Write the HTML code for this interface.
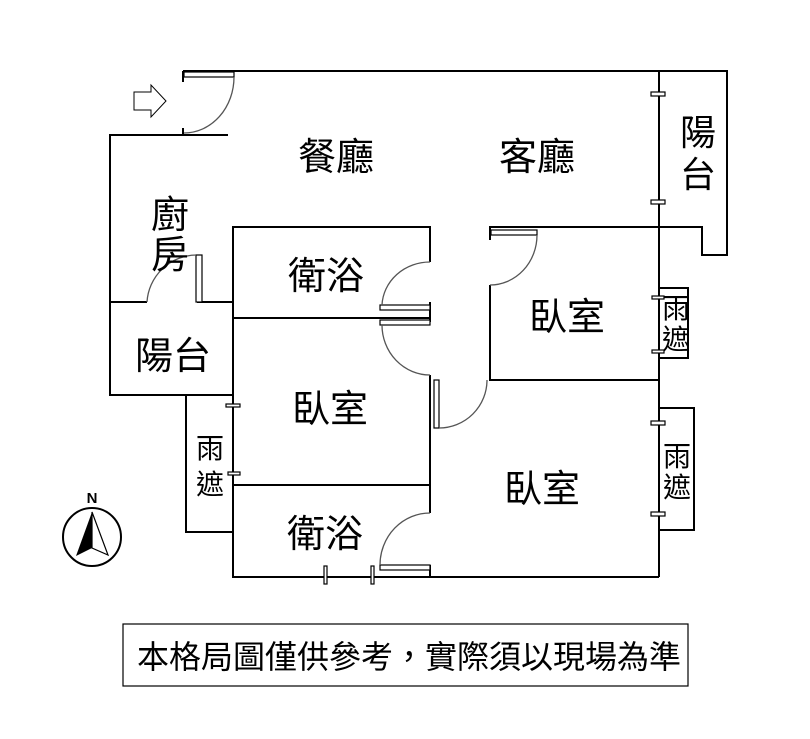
<!DOCTYPE html>
<html><head><meta charset="utf-8"><style>
body{margin:0;background:#fff}
svg{display:block}
text{font-family:"Liberation Sans","Noto Sans CJK TC",sans-serif;fill:#000}
</style></head><body>
<svg width="810" height="739" viewBox="0 0 810 739" xmlns="http://www.w3.org/2000/svg">
<g stroke="#000" stroke-width="2" fill="none">
<polyline points="183,71 727,71 727,255 702,255 702,227 659,227"/>
<line x1="659" y1="71" x2="659" y2="577"/>
<polyline points="228,135 110,135 110,395 233,395"/>
<line x1="183" y1="71" x2="183" y2="82"/>
<line x1="183" y1="128" x2="183" y2="135"/>
<line x1="110" y1="302" x2="147" y2="302"/>
<line x1="197" y1="302" x2="233" y2="302"/>
<polyline points="430,262 430,227 233,227 233,577 659,577"/>
<line x1="233" y1="318" x2="430" y2="318"/>
<line x1="430" y1="302" x2="430" y2="322"/>
<line x1="430" y1="375" x2="430" y2="513"/>
<line x1="430" y1="565" x2="430" y2="577"/>
<line x1="233" y1="485" x2="430" y2="485"/>
<polyline points="490,240 490,227 659,227"/>
<polyline points="490,285 490,380 659,380"/>
<polyline points="186,395 186,532 233,532"/>
<polyline points="659,288 688,288 688,358 659,358"/>
<polyline points="659,408 694,408 694,530 659,530"/>
<rect x="123" y="624" width="565" height="62" stroke-width="1.2"/>
</g>
<g stroke="#000" stroke-width="1.2" fill="#fff">
<rect x="184" y="72" width="50" height="5"/>
<rect x="196" y="255" width="6" height="47"/>
<rect x="380" y="305" width="50" height="5"/>
<rect x="380" y="320" width="50" height="5"/>
<rect x="434" y="380" width="5" height="48"/>
<rect x="491" y="230" width="46" height="5"/>
<rect x="380" y="565" width="50" height="5"/>
<rect x="651" y="92" width="14" height="4"/>
<rect x="651" y="200" width="14" height="4"/>
<rect x="652" y="296" width="12" height="3"/>
<rect x="652" y="350" width="12" height="3"/>
<rect x="651" y="421" width="14" height="4"/>
<rect x="651" y="512" width="14" height="4"/>
<rect x="226" y="404" width="14" height="3"/>
<rect x="228" y="472" width="12" height="3"/>
<rect x="324" y="566" width="3" height="18"/>
<rect x="371" y="566" width="3" height="18"/>
</g>
<g stroke="#555" stroke-width="1.3" fill="none">
<path d="M234,77 A50,56 0 0 1 184,133"/>
<path d="M147,302 A50,50 0 0 1 196,255"/>
<path d="M430,262 A48,45 0 0 0 382,305"/>
<path d="M382,325 A48,50 0 0 0 430,375"/>
<path d="M439,428 A48,48 0 0 0 487,380"/>
<path d="M537,235 A47,50 0 0 1 490,285"/>
<path d="M430,513 A50,52 0 0 0 380,565"/>
</g>
<polygon points="134,92 151,92 151,85 166,101 151,117 151,110 134,110" fill="#fff" stroke="#000" stroke-width="1"/>
<circle cx="92" cy="537" r="29" fill="none" stroke="#000" stroke-width="2"/>
<polygon points="92,512 76,556 92,548" fill="#000"/>
<polygon points="92,512 92,548 108,555" fill="#fff" stroke="#000" stroke-width="1.2"/>
<text x="92" y="503" font-size="15" font-weight="bold" text-anchor="middle">N</text>
<g font-size="38" text-anchor="middle">
<text x="336" y="170">餐廳</text>
<text x="537" y="170">客廳</text>
<text x="170" y="228">廚</text>
<text x="170" y="268">房</text>
<text x="326" y="289">衛浴</text>
<text x="173" y="369">陽台</text>
<text x="330" y="422">臥室</text>
<text x="567" y="330">臥室</text>
<text x="542" y="502">臥室</text>
<text x="325" y="547">衛浴</text>
</g>
<g font-size="36" text-anchor="middle">
<text x="698" y="145">陽</text>
<text x="698" y="187">台</text>
</g>
<g font-size="28" text-anchor="middle">
<text x="210" y="458">雨</text>
<text x="210" y="494">遮</text>
<text x="676" y="318">雨</text>
<text x="676" y="349">遮</text>
<text x="677" y="466">雨</text>
<text x="677" y="497">遮</text>
</g>
<text x="409" y="668" font-size="32" text-anchor="middle">本格局圖僅供參考，實際須以現場為準</text>
</svg>
</body></html>
